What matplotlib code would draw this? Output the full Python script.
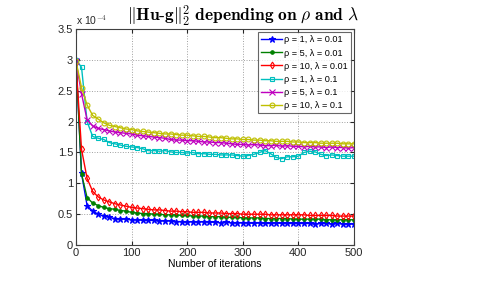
import numpy as np
import matplotlib
matplotlib.use("Agg")
import matplotlib.pyplot as plt

plt.rcParams['font.family'] = ['Liberation Sans', 'DejaVu Sans']
plt.rcParams['mathtext.fontset'] = 'cm'

iterations = np.arange(0, 501, 10)

rho1_lam001 = [3.0, 1.16, 0.64, 0.55, 0.50, 0.47, 0.45, 0.43, 0.42, 0.42,
               0.41, 0.41, 0.40, 0.40, 0.40, 0.39, 0.39, 0.39, 0.38, 0.38,
               0.37, 0.38, 0.37, 0.38, 0.37, 0.37, 0.36, 0.37, 0.36, 0.36,
               0.36, 0.36, 0.35, 0.36, 0.35, 0.35, 0.36, 0.35, 0.35, 0.35,
               0.35, 0.35, 0.35, 0.34, 0.35, 0.35, 0.34, 0.35, 0.34, 0.34, 0.34]
rho5_lam001 = [3.0, 1.15, 0.77, 0.68, 0.64, 0.61, 0.59, 0.58, 0.56, 0.55,
               0.53, 0.52, 0.51, 0.51, 0.50, 0.50, 0.49, 0.49, 0.49, 0.48,
               0.48, 0.47, 0.47, 0.47, 0.46, 0.46, 0.46, 0.45, 0.45, 0.45,
               0.44, 0.44, 0.44, 0.44, 0.43, 0.43, 0.43, 0.43, 0.43, 0.42,
               0.42, 0.42, 0.42, 0.42, 0.42, 0.41, 0.41, 0.41, 0.41, 0.41, 0.41]
rho10_lam001 = [2.95, 1.55, 1.08, 0.87, 0.78, 0.73, 0.70, 0.67, 0.65, 0.63,
                0.61, 0.60, 0.59, 0.58, 0.57, 0.57, 0.56, 0.55, 0.55, 0.54,
                0.54, 0.53, 0.53, 0.53, 0.52, 0.52, 0.52, 0.51, 0.51, 0.51,
                0.50, 0.50, 0.50, 0.50, 0.50, 0.49, 0.49, 0.49, 0.49, 0.49,
                0.49, 0.49, 0.48, 0.48, 0.48, 0.48, 0.48, 0.47, 0.47, 0.47, 0.47]
rho1_lam01 = [3.0, 2.88, 2.0, 1.76, 1.73, 1.71, 1.66, 1.64, 1.62, 1.60,
              1.59, 1.58, 1.56, 1.53, 1.53, 1.52, 1.53, 1.51, 1.50, 1.50,
              1.49, 1.50, 1.48, 1.48, 1.47, 1.47, 1.46, 1.46, 1.46, 1.45,
              1.44, 1.45, 1.47, 1.50, 1.53, 1.48, 1.42, 1.40, 1.43, 1.43,
              1.44, 1.50, 1.52, 1.51, 1.47, 1.45, 1.46, 1.45, 1.44, 1.44, 1.44]
rho5_lam01 = [2.98, 2.45, 2.03, 1.93, 1.89, 1.87, 1.85, 1.83, 1.82, 1.81,
              1.80, 1.78, 1.77, 1.76, 1.75, 1.74, 1.73, 1.71, 1.70, 1.70,
              1.69, 1.69, 1.68, 1.67, 1.67, 1.66, 1.66, 1.65, 1.64, 1.63,
              1.63, 1.62, 1.63, 1.62, 1.61, 1.61, 1.62, 1.60, 1.61, 1.60,
              1.60, 1.59, 1.60, 1.59, 1.59, 1.58, 1.59, 1.58, 1.58, 1.57, 1.58]
rho10_lam01 = [2.98, 2.55, 2.27, 2.10, 2.04, 1.98, 1.94, 1.92, 1.90, 1.88,
               1.87, 1.85, 1.84, 1.83, 1.82, 1.81, 1.80, 1.80, 1.79, 1.78,
               1.78, 1.77, 1.76, 1.76, 1.75, 1.74, 1.74, 1.73, 1.72, 1.72,
               1.71, 1.71, 1.70, 1.70, 1.69, 1.69, 1.68, 1.68, 1.68, 1.67,
               1.67, 1.66, 1.66, 1.66, 1.65, 1.65, 1.65, 1.65, 1.64, 1.64, 1.64]

labels = ['ρ = 1, λ = 0.01', 'ρ = 5, λ = 0.01', 'ρ = 10, λ = 0.01',
          'ρ = 1, λ = 0.1', 'ρ = 5, λ = 0.1', 'ρ = 10, λ = 0.1']
colors = ['#0000ff', '#008000', '#ff0000', '#00bfbf', '#bf00bf', '#bfbf00']
markers = ['*', '.', 'd', 's', 'x', 'o']
series = [rho1_lam001, rho5_lam001, rho10_lam001, rho1_lam01, rho5_lam01, rho10_lam01]

yticks = [0, 0.5, 1, 1.5, 2, 2.5, 3, 3.5]
ytick_labels = ['0', '0.5', '1', '1.5', '2', '2.5', '3', '3.5']
xticks = [0, 100, 200, 300, 400, 500]

fig = plt.figure(figsize=(4.87, 2.84), dpi=100)
ax = fig.add_axes([0.156, 0.137, 0.571, 0.761])

for ys, c, m, lab in zip(series, colors, markers, labels):
    filled = m in ('*', '.', 'x')
    ms = {'*': 5, '.': 5, 'd': 3.5, 's': 3.5, 'x': 4, 'o': 3.5}[m]
    ax.plot(iterations, ys, color=c, marker=m, markersize=ms, linewidth=1.0,
            markerfacecolor=c if filled else 'none', markeredgecolor=c,
            markeredgewidth=0.8, label=lab)

ax.set_xlim(0, 500)
ax.set_ylim(0, 3.5)
ax.set_xticks(xticks)
ax.set_yticks(yticks)
ax.set_yticklabels(ytick_labels)
ax.tick_params(direction='in', labelsize=8, length=3, colors='#262626', pad=2,
               top=True, right=True)
ax.grid(True, linestyle=':', color='#a0a0a0', linewidth=0.7)
for s in ax.spines.values():
    s.set_color('#404040')
    s.set_linewidth(0.8)

ax.set_xlabel('Number of iterations', fontsize=7.5, labelpad=1)
ax.text(0.0, 1.008, r'x 10$^{-4}$', transform=ax.transAxes, fontsize=7.5,
        ha='left', va='bottom', color='#262626')

fig.text(0.499, 0.946,
         r'$\|\mathbf{Hu}\text{-}\mathbf{g}\|_2^2$ $\mathbf{depending\ on}$ $\rho$ $\mathbf{and}$ $\lambda$',
         ha='center', va='center', fontsize=12.5)

leg = ax.legend(loc='upper right', fontsize=6.6, frameon=True, fancybox=False,
                edgecolor='#404040', handlelength=2.3, handletextpad=0.2,
                borderpad=0.35, labelspacing=0.45, borderaxespad=0.35)
leg.get_frame().set_linewidth(0.8)

fig.savefig('out.png', dpi=100)
